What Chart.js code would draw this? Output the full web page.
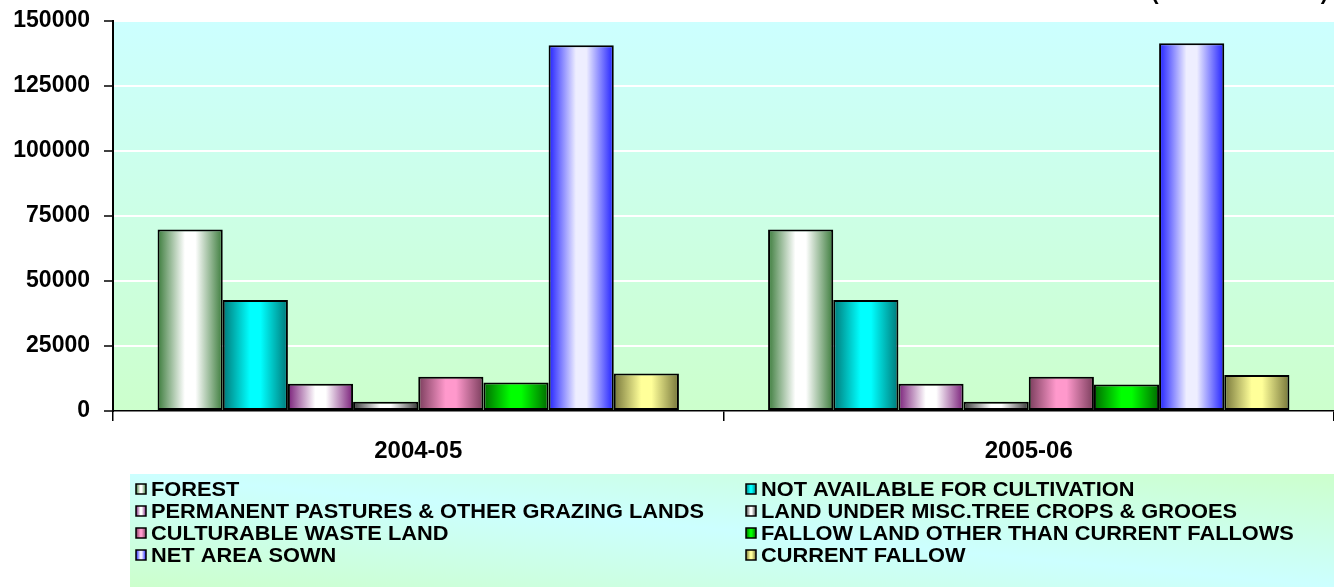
<!DOCTYPE html>
<html><head><meta charset="utf-8">
<script src="https://cdn.jsdelivr.net/npm/chart.js@4.4.0/dist/chart.umd.min.js"></script>
<style>html,body{margin:0;padding:0;background:#fff;overflow:hidden}canvas{display:block}</style>
</head><body>
<canvas id="c" width="1334" height="587"></canvas>
<script>
// ---------- DATA ----------
const categories = ['2004-05', '2005-06'];
const seriesNames = [
  'FOREST',
  'NOT AVAILABLE FOR CULTIVATION',
  'PERMANENT PASTURES & OTHER GRAZING LANDS',
  'LAND UNDER MISC.TREE CROPS & GROOES',
  'CULTURABLE WASTE LAND',
  'FALLOW LAND OTHER THAN CURRENT FALLOWS',
  'NET AREA SOWN',
  'CURRENT FALLOW'
];
const forest       = [69800, 69800];
const notAvailable = [42700, 42700];
const pastures     = [10450, 10450];
const miscTrees    = [3560, 3560];
const culturable   = [13130, 13130];
const fallowOther  = [10950, 10200];
const netAreaSown  = [140700, 141400];
const currentFallow= [14450, 13800];
const seriesValues = [forest, notAvailable, pastures, miscTrees, culturable, fallowOther, netAreaSown, currentFallow];
const yTickValues = [0, 25000, 50000, 75000, 100000, 125000, 150000];
const unitLabel = '(000 HECTARES)';

// ---------- STYLES ----------
const seriesStyles = [
  {dark: '#3c7c3c', light: '#ffffff'},
  {dark: '#007878', light: '#00ffff'},
  {dark: '#7a1f7a', light: '#ffffff'},
  {dark: '#3a3a3a', light: '#ffffff'},
  {dark: '#7a3d5c', light: '#ff99cc'},
  {dark: '#006a00', light: '#00ff00'},
  {dark: '#2020ff', light: '#eeeeff'},
  {dark: '#76763a', light: '#ffff99'}
];
const CAT_PCT = 0.854;
const FONT = '"Liberation Sans", Arial, sans-serif';

function makeGrad(c, x0, x1, st) {
  const g = c.createLinearGradient(x0, 0, x1, 0);
  g.addColorStop(0, st.dark);
  g.addColorStop(0.42, st.light);
  g.addColorStop(0.58, st.light);
  g.addColorStop(1, st.dark);
  return g;
}
function barFill(context) {
  const chart = context.chart;
  const st = seriesStyles[context.datasetIndex];
  if (!chart.chartArea || context.type !== 'data') return st.light;
  const xs = chart.scales.x;
  const n = chart.data.datasets.length;
  const catW = xs.width / chart.data.labels.length;
  const groupW = catW * CAT_PCT;
  const w = groupW / n;
  const left = xs.getPixelForValue(context.dataIndex) - groupW / 2 + context.datasetIndex * w;
  return makeGrad(chart.ctx, left, left + w, st);
}

const bgPlugin = {
  id: 'bg',
  beforeDraw(chart) {
    const c = chart.ctx, a = chart.chartArea;
    c.save();
    c.fillStyle = '#fff';
    c.fillRect(0, 0, chart.width, chart.height);
    const g = c.createLinearGradient(0, a.top, 0, a.bottom);
    g.addColorStop(0, '#ccffff');
    g.addColorStop(1, '#ccffcc');
    c.fillStyle = g;
    c.fillRect(a.left, a.top, a.right - a.left, a.bottom - a.top);
    // legend box
    const L = 130, T = 474, R = chart.width, B = chart.height;
    const W = R - L, H = B - T;
    const f = 2 * W * H / (W * W + H * H);
    const lg = c.createLinearGradient(L, B, L + H * f, B - W * f);
    lg.addColorStop(0, '#ccffcc');
    lg.addColorStop(0.5, '#ccffff');
    lg.addColorStop(1, '#ccffcc');
    c.fillStyle = lg;
    c.fillRect(L, T, W, H);
    c.restore();
  },
  afterDraw(chart) {
    const c = chart.ctx;
    c.save();
    // unit label (mostly cut off at the top)
    c.font = 'bold 22px ' + FONT;
    c.fillStyle = '#000';
    c.textAlign = 'right';
    c.textBaseline = 'alphabetic';
    c.fillText(unitLabel, 1328, -1);
    // legend
    c.font = 'bold 20px ' + FONT;
    c.textAlign = 'left';
    c.textBaseline = 'middle';
    const colX = [136, 746];
    const rowY = [489, 511, 533, 555];
    const stretch = 1.09;
    chart.data.datasets.forEach((ds, i) => {
      const x = colX[i % 2], y = rowY[Math.floor(i / 2)];
      const s = 10;
      c.fillStyle = makeGrad(c, x, x + s, seriesStyles[i]);
      c.fillRect(x, y - s / 2, s, s);
      c.strokeStyle = '#000';
      c.lineWidth = 1.5;
      c.strokeRect(x, y - s / 2, s, s);
      c.fillStyle = '#000';
      c.save();
      c.translate(x + 15, y + 1);
      c.scale(stretch, 1);
      c.fillText(ds.label, 0, 0);
      c.restore();
    });
    c.restore();
  }
};

const chart = new Chart(document.getElementById('c'), {
  type: 'bar',
  data: {
    labels: categories,
    datasets: seriesNames.map((name, i) => ({
      label: name,
      data: seriesValues[i],
      backgroundColor: barFill,
      borderColor: '#000',
      borderWidth: 2,
      borderSkipped: false,
      categoryPercentage: CAT_PCT,
      barPercentage: 1
    }))
  },
  options: {
    responsive: false,
    devicePixelRatio: 1,
    animation: false,
    events: [],
    layout: {padding: {top: 21, right: 0, bottom: 116, left: 0}},
    plugins: {legend: {display: false}, tooltip: {enabled: false}, title: {display: false}},
    scales: {
      x: {
        offset: true,
        grid: {offset: true, drawOnChartArea: false, drawTicks: true, color: '#000', tickLength: 10, lineWidth: 1.5},
        border: {display: true, color: '#000', width: 1.5},
        ticks: {color: '#000', font: {family: FONT, weight: 'bold', size: 24}, padding: 16},
        afterFit(s) { s.height = 60; s.paddingLeft = 0; s.paddingRight = 0; }
      },
      y: {
        min: 0, max: 150000,
        afterBuildTicks(s) { s.ticks = yTickValues.map(v => ({value: v})); },
        grid: {
          color: ctx => (ctx.tick && ctx.tick.value === 0) ? 'rgba(0,0,0,0)' : '#ffffff',
          lineWidth: 2,
          tickColor: '#000',
          tickWidth: 1.5,
          tickLength: 9,
          drawTicks: true
        },
        border: {display: true, color: '#000', width: 2},
        ticks: {color: '#000', font: {family: FONT, weight: 'bold', size: 23}, padding: 14, callback: v => String(v)},
        afterFit(s) { s.width = 113; s.paddingTop = 0; s.paddingBottom = 0; }
      }
    }
  },
  plugins: [bgPlugin]
});
</script>
</body></html>
